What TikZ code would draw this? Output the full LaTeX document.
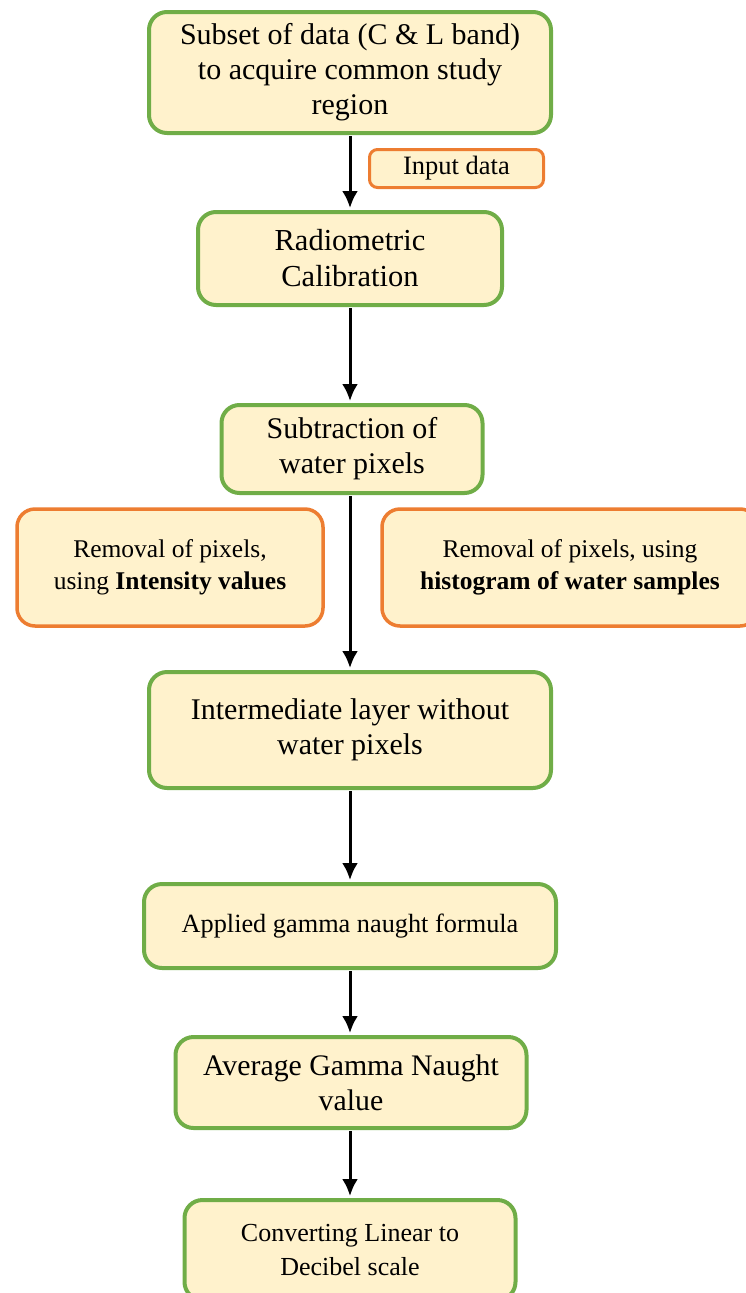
\documentclass[tikz,border=0pt]{standalone}
\usepackage{fontspec}
\setmainfont{Liberation Serif}
\usetikzlibrary{arrows.meta}

\definecolor{boxfill}{HTML}{FFF2CC}
\definecolor{stepgreen}{HTML}{70AD47}
\definecolor{noteorange}{HTML}{ED7D31}

\tikzset{
  stepbox/.style={draw=stepgreen, line width=4pt, fill=boxfill, rounded corners=18pt,
    align=center, inner sep=0pt},
  notebox/.style={stepbox, draw=noteorange, line width=3.5pt},
  flow/.style={->, line width=3pt, shorten >=2pt, shorten <=1pt},
}

\begin{document}
\begin{tikzpicture}[x=1pt, y=-1pt, >={Latex[length=17pt,width=16pt]}]
  \useasboundingbox (0,0) rectangle (745,1293);

  % main chain of steps
  \node[stepbox, minimum width=402pt, minimum height=121pt, font=\fontsize{30}{35}\selectfont]
    (subset) at (350,72.5) {Subset of data (C \& L band)\\to acquire common study\\region};
  \node[notebox, line width=3pt, rounded corners=8pt, minimum width=174pt, minimum height=38pt,
    font=\fontsize{26.5}{28}\selectfont] (input) at (456.5,168.5) {Input data};
  \node[stepbox, minimum width=304pt, minimum height=93pt, font=\fontsize{30.5}{36}\selectfont]
    (radio) at (350,258.5) {Radiometric\\Calibration};
  \node[stepbox, minimum width=261pt, minimum height=88pt, font=\fontsize{30}{35}\selectfont]
    (subtr) at (352,449) {Subtraction of\\water pixels};

  % the two ways of removing water pixels
  \node[notebox, minimum width=306pt, minimum height=117pt, font=\fontsize{25.5}{32}\selectfont]
    (byint) at (170,567.5) {Removal of pixels,\\using \textbf{Intensity values}};
  \node[notebox, minimum width=376pt, minimum height=117pt, font=\fontsize{25.5}{32}\selectfont]
    (byhist) at (570,567.5) {Removal of pixels, using\\\textbf{histogram of water samples}};

  \node[stepbox, minimum width=402pt, minimum height=116pt, font=\fontsize{30}{35}\selectfont]
    (inter) at (350,730) {Intermediate layer without\\water pixels};
  \node[stepbox, minimum width=412pt, minimum height=84pt, font=\fontsize{26.3}{30}\selectfont]
    (gamma) at (350,926) {Applied gamma naught formula};
  \node[stepbox, minimum width=351pt, minimum height=91pt, font=\fontsize{29.8}{35}\selectfont]
    (avg) at (351,1082.5) {Average Gamma Naught\\value};
  \node[stepbox, minimum width=331pt, minimum height=100pt, font=\fontsize{26}{34}\selectfont]
    (todb) at (350,1250) {Converting Linear to\\Decibel scale};

  % arrows
  \draw[flow] (subset) -- (radio);
  \draw[flow] (radio) -- (radio |- subtr.north);
  \draw[flow] (radio |- subtr.south) -- (radio |- inter.north);
  \draw[flow] (inter) -- (gamma);
  \draw[flow] (gamma) -- (gamma |- avg.north);
  \draw[flow] (gamma |- avg.south) -- (todb);
\end{tikzpicture}
\end{document}
